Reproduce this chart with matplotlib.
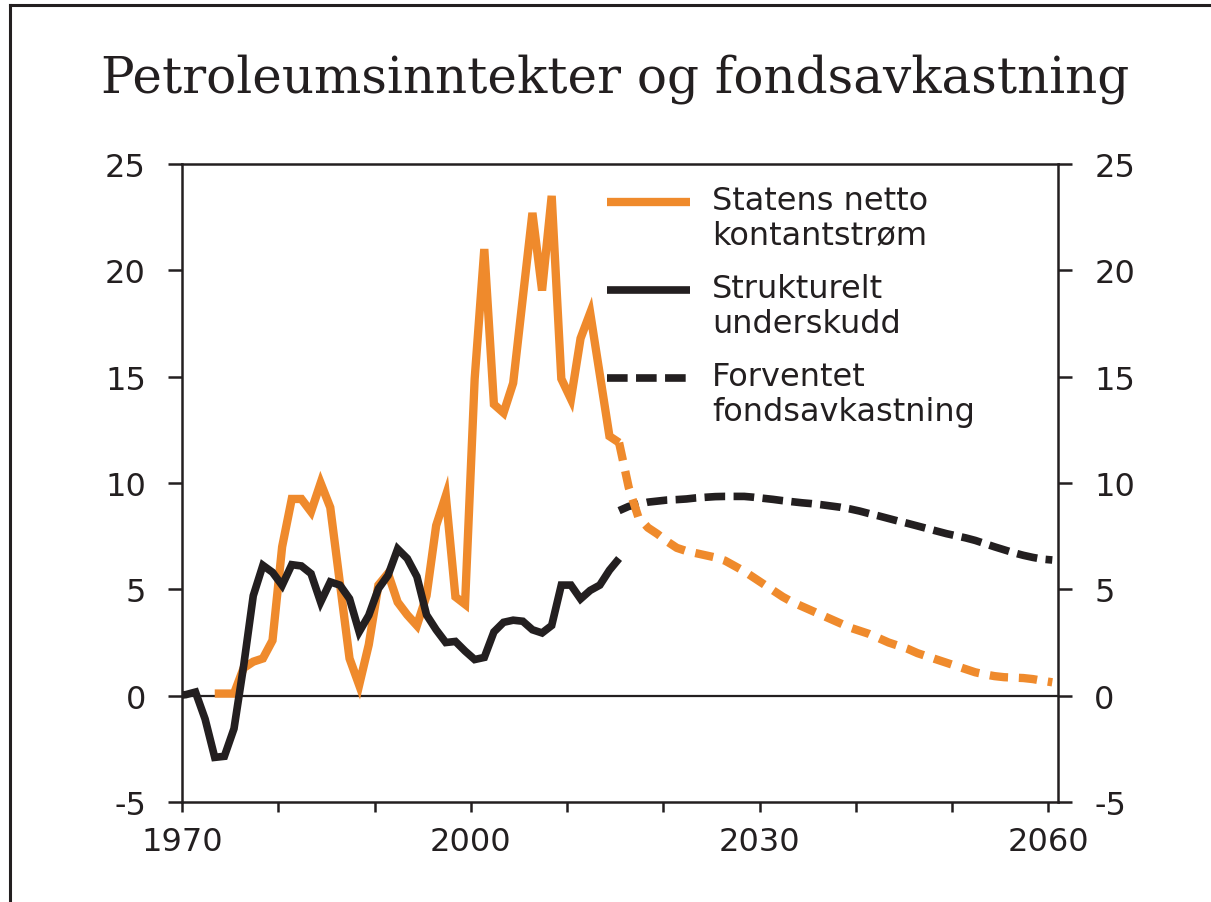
import numpy as np
import matplotlib
matplotlib.use("Agg")
import matplotlib.pyplot as plt
from matplotlib.lines import Line2D
from matplotlib.legend_handler import HandlerLine2D

plt.rcParams["axes.unicode_minus"] = False

# --- data (mrd. kroner / prosent, lest av figuren) ---
aar_struktur = list(range(1969, 2016))
strukturelt_underskudd = [0.0, 0.05, 0.17, -1.1, -2.9, -2.85, -1.55, 1.4, 4.7, 6.13,
                          5.8, 5.19, 6.16, 6.1, 5.74, 4.4, 5.35, 5.2, 4.56, 3.0,
                          3.78, 5.03, 5.66, 6.9, 6.45, 5.6, 3.8, 3.1, 2.5, 2.55,
                          2.1, 1.7, 1.8, 3.0, 3.45, 3.55, 3.5, 3.1, 2.95, 3.3,
                          5.2, 5.2, 4.55, 4.95, 5.2, 5.9, 6.45]

aar_kontant = list(range(1973, 2016))
netto_kontantstrom = [0.1, 0.1, 0.1, 1.3, 1.6, 1.75, 2.6, 7.0, 9.25, 9.25,
                      8.65, 10.0, 8.85, 5.3, 1.75, 0.5, 2.4, 5.2, 5.75, 4.4,
                      3.8, 3.3, 4.7, 8.0, 9.4, 4.65, 4.3, 14.9, 21.0, 13.7,
                      13.3, 14.7, 18.7, 22.7, 19.05, 23.5, 14.9, 13.95, 16.8, 18.0,
                      15.1, 12.2, 11.9]

aar_framskriving = list(range(2015, 2061))
kontantstrom_framskr = [11.9, 9.8, 8.4, 7.9, 7.6, 7.25, 6.95, 6.8, 6.7, 6.6,
                        6.5, 6.35, 6.1, 5.85, 5.55, 5.25, 4.95, 4.65, 4.4, 4.2,
                        4.0, 3.8, 3.6, 3.4, 3.2, 3.05, 2.9, 2.7, 2.5, 2.35,
                        2.2, 2.0, 1.85, 1.7, 1.55, 1.4, 1.25, 1.1, 1.0, 0.92,
                        0.87, 0.85, 0.83, 0.78, 0.7, 0.63]
fondsavkastning = [8.7, 8.9, 9.0, 9.1, 9.15, 9.2, 9.22, 9.25, 9.3, 9.33,
                   9.36, 9.37, 9.37, 9.37, 9.33, 9.28, 9.23, 9.17, 9.12, 9.07,
                   9.03, 8.98, 8.92, 8.86, 8.78, 8.68, 8.56, 8.45, 8.33, 8.21,
                   8.1, 7.98, 7.86, 7.74, 7.62, 7.52, 7.42, 7.3, 7.15, 7.0,
                   6.86, 6.72, 6.6, 6.5, 6.42, 6.38]

etiketter = ["Statens netto\nkontantstrøm", "Strukturelt\nunderskudd",
             "Forventet\nfondsavkastning"]
x_ticks = list(range(1970, 2061, 10))
x_ticklabels = ["1970", "", "", "2000", "", "", "2030", "", "", "2060"]
y_ticks = [-5, 0, 5, 10, 15, 20, 25]

oransje = "#EF8A2C"
svart = "#231F20"
midtaar = 0.4  # verdiene er plassert litt ut i året


class HandlerForsteLinje(HandlerLine2D):
    # legger strek-symbolet ud for første tekstlinje
    def create_artists(self, legend, orig_handle, xdescent, ydescent,
                       width, height, fontsize, trans):
        return super().create_artists(legend, orig_handle, xdescent,
                                      ydescent - 24.5, width, height,
                                      fontsize, trans)


fig = plt.figure(figsize=(12.11, 9.03), dpi=100)
ax = fig.add_axes([0.1503, 0.1107, 0.7234, 0.7066])

x_s = np.array(aar_struktur) + midtaar
x_k = np.array(aar_kontant) + midtaar
x_f = np.array(aar_framskriving) + midtaar

l_kontant, = ax.plot(x_k, netto_kontantstrom, color=oransje, lw=6, zorder=3,
                     solid_joinstyle="miter", solid_capstyle="butt")
ax.plot(x_f, kontantstrom_framskr, color=oransje, lw=6, zorder=5,
        dashes=(2.2, 1.3), dash_capstyle="butt")
l_struktur, = ax.plot(x_s, strukturelt_underskudd, color=svart, lw=5.5, zorder=4,
                      solid_joinstyle="miter", solid_capstyle="butt")
l_fond, = ax.plot(x_f, fondsavkastning, color=svart, lw=5.5, zorder=4,
                  dashes=(2.7, 1.1), dash_capstyle="butt")

ax.axhline(0, color=svart, lw=1.6, zorder=2)

ax.set_xlim(1970, 2061)
ax.set_ylim(-5, 25)
ax.set_xticks(x_ticks)
ax.set_xticklabels(x_ticklabels)
ax.set_yticks(y_ticks)

for s in ax.spines.values():
    s.set_linewidth(1.8)
    s.set_color(svart)

ax.tick_params(axis="y", which="both", direction="out", length=10, width=1.8,
               labelsize=23, pad=16, left=True, right=True,
               labelleft=True, labelright=True, colors=svart)
ax.tick_params(axis="x", direction="out", length=7, width=1.8,
               labelsize=23, pad=10, colors=svart)
for lab in ax.get_xticklabels() + ax.get_yticklabels():
    lab.set_family("DejaVu Sans")

leg = ax.legend([l_kontant, l_struktur, l_fond], etiketter,
                loc="upper left", bbox_to_anchor=(0.47, 0.987),
                frameon=False, fontsize=23, handlelength=2.6,
                handletextpad=0.7, labelspacing=0.68, borderaxespad=0,
                handler_map={Line2D: HandlerForsteLinje()})
for t in leg.get_texts():
    t.set_linespacing(1.18)
    t.set_color(svart)

fig.text(0.508, 0.898, "Petroleumsinntekter og fondsavkastning",
         family="DejaVu Serif", fontsize=36, ha="center", va="baseline",
         color=svart)

# ramme rundt figuren
fig.add_artist(Line2D([10 / 1211, 10 / 1211], [0, 1 - 6 / 903],
                      transform=fig.transFigure, color=svart, lw=2.2))
fig.add_artist(Line2D([10 / 1211, 1], [1 - 6 / 903, 1 - 6 / 903],
                      transform=fig.transFigure, color=svart, lw=2.2))

fig.savefig("out.png", dpi=100)
